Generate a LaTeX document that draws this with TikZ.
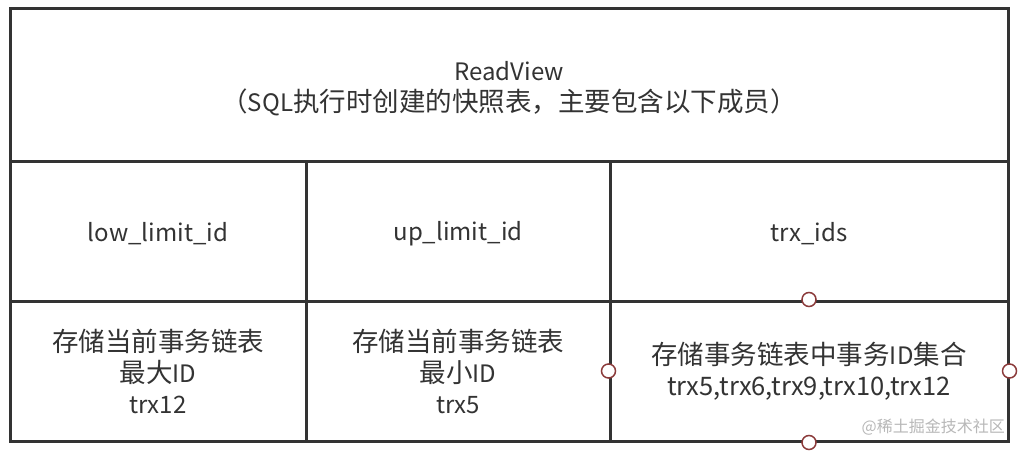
\documentclass[tikz,border=0pt]{standalone}
\usepackage{fontspec}
\setmainfont{Noto Sans CJK SC}
\definecolor{linec}{HTML}{333333}
\definecolor{textc}{HTML}{333333}
\definecolor{handle}{HTML}{8B3A3A}
\definecolor{wm}{HTML}{B8B8B8}
\newcommand{\zh}[1]{{\fontsize{26.5}{31}\selectfont #1}}
\begin{document}
\begin{tikzpicture}[x=1pt,y=-1pt,
  cell/.style={draw=linec,line width=3pt,inner sep=0pt},
  txt/.style={inner sep=0pt,text=textc,font=\fontsize{24}{31}\selectfont,align=center},
  handlept/.style={circle,draw=handle,fill=white,line width=1.5pt,minimum size=14pt,inner sep=0pt}]
\useasboundingbox (0,0) rectangle (1024,452);
\fill[white] (0,0) rectangle (1024,452);
% cells
\node[cell,minimum width=998pt,minimum height=152pt] (head) at (509,85) {};
\node[cell,minimum width=296pt,minimum height=140pt] (c1) at (158,231) {};
\node[cell,minimum width=304pt,minimum height=140pt] (c2) at (458,231) {};
\node[cell,minimum width=398pt,minimum height=140pt] (c3) at (809,231) {};
\node[cell,minimum width=296pt,minimum height=140pt] (d1) at (158,371) {};
\node[cell,minimum width=304pt,minimum height=140pt] (d2) at (458,371) {};
\node[cell,minimum width=398pt,minimum height=140pt] (d3) at (809,371) {};
% texts
\node[txt] (headt) at ([yshift=-4pt]head.center)
  {ReadView\\\zh{（}SQL\zh{执行时创建的快照表，主要包含以下成员）}};
\node[txt] (c1t) at ([yshift=-3pt]c1.center) {low\_limit\_id};
\node[txt] (c2t) at ([yshift=-3pt]c2.center) {up\_limit\_id};
\node[txt] (c3t) at ([yshift=-3pt]c3.center) {trx\_ids};
\node[txt] (d1t) at (d1.center) {\zh{存储当前事务链表}\\\zh{最大}ID\\trx12};
\node[txt] (d2t) at (d2.center) {\zh{存储当前事务链表}\\\zh{最小}ID\\trx5};
\node[txt] (d3t) at (d3.center) {\zh{存储事务链表中事务}ID\zh{集合}\\{\fontsize{25.5}{31}\selectfont trx5,trx6,trx9,trx10,trx12}};
% handles
\node[handlept] (h1) at (d3.north) {};
\node[handlept] (h2) at (d3.west) {};
\node[handlept] (h3) at (d3.east) {};
\node[handlept] (h4) at (d3.south) {};
% watermark
\node[text=wm,font=\fontsize{16}{16}\selectfont,anchor=east,inner sep=0pt] (wmk) at (1005,427) {@稀土掘金技术社区};
\end{tikzpicture}
\end{document}
